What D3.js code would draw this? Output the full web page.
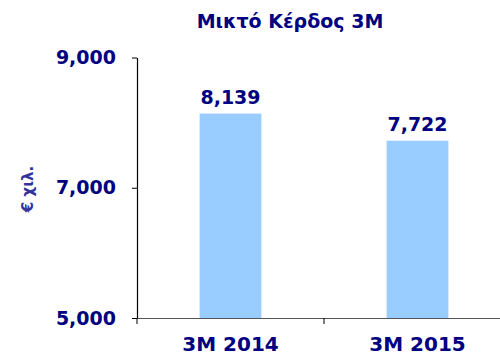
<!DOCTYPE html>
<html>
<head>
<meta charset="utf-8">
<script src="https://cdn.jsdelivr.net/npm/d3@7"></script>
<style>
  html, body { margin: 0; padding: 0; background: #fff; }
  svg { display: block; font-family: "DejaVu Sans", Verdana, sans-serif; }
</style>
</head>
<body>
<svg id="chart" width="500" height="354"></svg>
<script>
// Gross profit for the first quarter, thousands of euro
const categories = ["3M 2014", "3M 2015"];
const values = [8139, 7722];
const yTicks = [5000, 7000, 9000];
const titleText = "Μικτό Κέρδος 3Μ";
const yAxisTitle = "€ χιλ.";

const navy = "#000080";
const barColor = "#99CCFF";

const svg = d3.select("#chart");
const plot = { left: 137, right: 511, top: 57.5, bottom: 318 };

const x = d3.scaleBand()
  .domain(categories)
  .range([plot.left, plot.right])
  .padding(0);

const y = d3.scaleLinear()
  .domain([5000, 9000])
  .range([plot.bottom, plot.top]);

const fmt = d3.format(",");
const barWidth = x.bandwidth() * 0.33;

// Bars
svg.append("g")
  .selectAll("rect")
  .data(values)
  .join("rect")
  .attr("x", (d, i) => x(categories[i]) + (x.bandwidth() - barWidth) / 2)
  .attr("y", d => y(d))
  .attr("width", barWidth)
  .attr("height", d => y(5000) - y(d))
  .attr("fill", barColor);

// Value labels above bars
svg.append("g")
  .selectAll("text")
  .data(values)
  .join("text")
  .attr("x", (d, i) => x(categories[i]) + x.bandwidth() / 2)
  .attr("y", d => y(d) - 10)
  .attr("text-anchor", "middle")
  .attr("font-size", 19)
  .attr("font-weight", "bold")
  .attr("fill", navy)
  .text(d => fmt(d));

// Y axis
const yAxis = svg.append("g")
  .attr("transform", `translate(${plot.left},0)`)
  .call(d3.axisLeft(y).tickValues(yTicks).tickFormat(fmt).tickSizeInner(5).tickSizeOuter(0).tickPadding(16));
yAxis.select(".domain").attr("stroke", "#000").attr("stroke-width", 1.2);
yAxis.selectAll(".tick line").attr("stroke", "#000");
yAxis.selectAll(".tick text")
  .attr("font-size", 19)
  .attr("font-weight", "bold")
  .attr("fill", navy)
  .attr("font-family", "DejaVu Sans, Verdana, sans-serif");

// X axis with ticks between categories
const xAxis = svg.append("g")
  .attr("transform", `translate(0,${plot.bottom})`)
  .call(d3.axisBottom(x).tickSize(0).tickPadding(19));
xAxis.select(".domain").attr("stroke", "#555").attr("stroke-width", 1.2);
xAxis.selectAll(".tick text")
  .attr("font-size", 20)
  .attr("font-weight", "bold")
  .attr("fill", navy)
  .attr("font-family", "DejaVu Sans, Verdana, sans-serif");

const boundaries = [plot.left, x(categories[1]), plot.right];
xAxis.selectAll(".sep")
  .data(boundaries)
  .join("line")
  .attr("class", "sep")
  .attr("x1", d => d).attr("x2", d => d)
  .attr("y1", 0).attr("y2", 6)
  .attr("stroke", "#000");

// Title
svg.append("text")
  .attr("x", 290)
  .attr("y", 28)
  .attr("text-anchor", "middle")
  .attr("font-size", 19)
  .attr("font-weight", "bold")
  .attr("fill", navy)
  .text(titleText);

// Y axis title
svg.append("text")
  .attr("transform", "translate(33,189) rotate(-90)")
  .attr("text-anchor", "middle")
  .attr("font-size", 15)
  .attr("font-weight", "bold")
  .attr("fill", "#333399")
  .text(yAxisTitle);
</script>
</body>
</html>
